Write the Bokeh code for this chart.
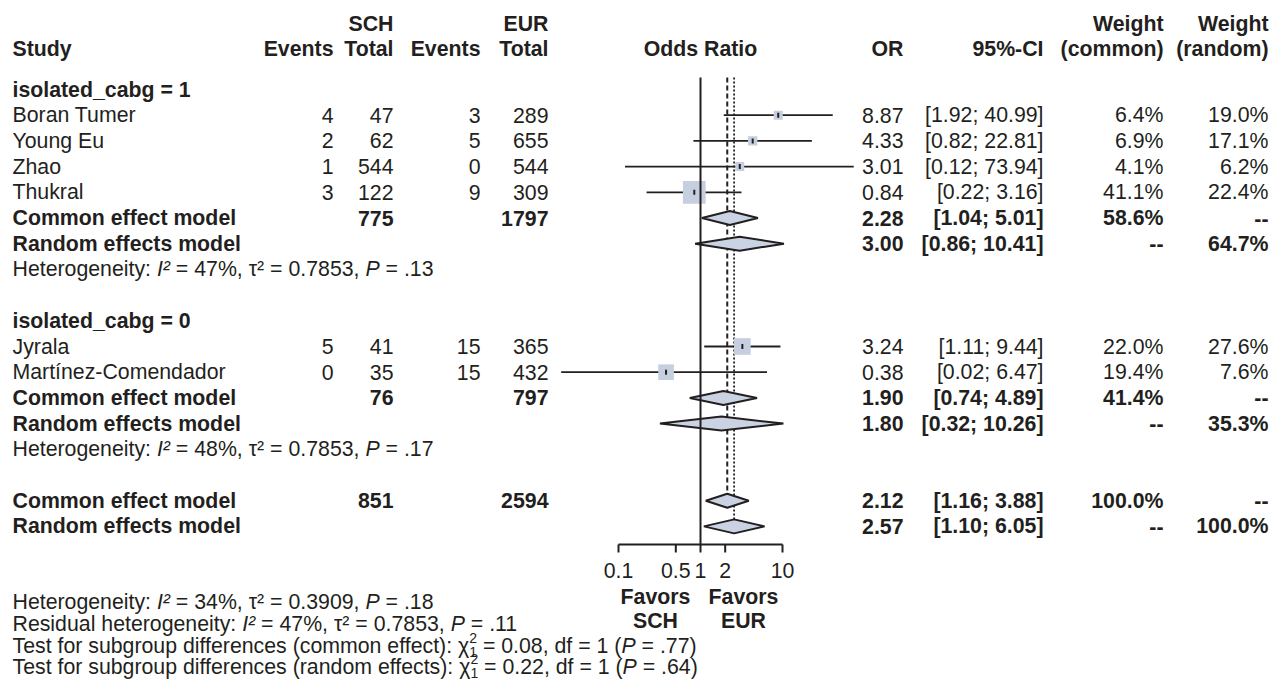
import glob
import math
from bokeh.plotting import figure
from bokeh.models import Range1d, LogScale, ColumnDataSource
from bokeh.core.properties import value
from bokeh.embed import file_html
from bokeh.resources import INLINE

# ---------------- data ----------------
g1_label = "isolated_cabg = 1"
g1_study = ["Boran Tumer", "Young Eu", "Zhao", "Thukral"]
g1_ev_sch = [4, 2, 1, 3]
g1_n_sch = [47, 62, 544, 122]
g1_ev_eur = [3, 5, 0, 9]
g1_n_eur = [289, 655, 544, 309]
g1_or = [8.87, 4.33, 3.01, 0.84]
g1_lo = [1.92, 0.82, 0.12, 0.22]
g1_hi = [40.99, 22.81, 73.94, 3.16]
g1_wc = [6.4, 6.9, 4.1, 41.1]
g1_wr = [19.0, 17.1, 6.2, 22.4]

g0_label = "isolated_cabg = 0"
g0_study = ["Jyrala", "Martínez-Comendador"]
g0_ev_sch = [5, 0]
g0_n_sch = [41, 35]
g0_ev_eur = [15, 15]
g0_n_eur = [365, 432]
g0_or = [3.24, 0.38]
g0_lo = [1.11, 0.02]
g0_hi = [9.44, 6.47]
g0_wc = [22.0, 19.4]
g0_wr = [27.6, 7.6]

model_labels = ["Common effect model", "Random effects model"]
g1_tot = [775, 1797]
g1_sum_or = [2.28, 3.00]
g1_sum_lo = [1.04, 0.86]
g1_sum_hi = [5.01, 10.41]
g1_sum_wc = [58.6, None]
g1_sum_wr = [None, 64.7]

g0_tot = [76, 797]
g0_sum_or = [1.90, 1.80]
g0_sum_lo = [0.74, 0.32]
g0_sum_hi = [4.89, 10.26]
g0_sum_wc = [41.4, None]
g0_sum_wr = [None, 35.3]

all_tot = [851, 2594]
all_sum_or = [2.12, 2.57]
all_sum_lo = [1.16, 1.10]
all_sum_hi = [3.88, 6.05]
all_sum_wc = [100.0, None]
all_sum_wr = [None, 100.0]

g1_het = ["47%", "0.7853", ".13"]
g0_het = ["48%", "0.7853", ".17"]
all_het = ["34%", "0.3909", ".18"]
resid_het = ["47%", "0.7853", ".11"]
test_common = ["0.08", "1", ".77"]
test_random = ["0.22", "1", ".64"]

ticks = [0.1, 0.5, 1, 2, 10]
tick_labels = ["0.1", "0.5", "1", "2", "10"]
favors_left = ["Favors", "SCH"]
favors_right = ["Favors", "EUR"]

# ---------------- style / layout ----------------
FONT = "Liberation Sans"
FS = 21.3
TXT = "#231f20"
LINE = "#231f20"
SQ = "#c5cfe0"
DIA = "#c9d3e3"
W, H = 1270, 680
X0, Y0 = 0, 0
X_NULL, PX_DEC = 700, 82.0
ROW0, ROWH = 89.0, 25.7
DH = 7.0
NB = "\u00a0"


def row_y(r):
    return ROW0 + ROWH * r


# text width helper
_fonts = {}
try:
    from PIL import ImageFont
    for style, fname in [("normal", "LiberationSans-Regular.ttf"),
                         ("italic", "LiberationSans-Italic.ttf"),
                         ("bold", "LiberationSans-Bold.ttf")]:
        hits = glob.glob("/usr/share/fonts/**/" + fname, recursive=True) + \
            glob.glob("/usr/local/share/fonts/**/" + fname, recursive=True)
        if hits:
            _fonts[style] = ImageFont.truetype(hits[0], 100)
except Exception:
    _fonts = {}

_AW = {' ': 278, NB: 278, '%': 889, '(': 333, ')': 333, ',': 278, '-': 333, '.': 278, ':': 278,
       ';': 278, '=': 584, '[': 278, ']': 278, '_': 556, '²': 333, 'τ': 480, 'χ': 520,
       'A': 667, 'B': 667, 'C': 722, 'D': 722, 'E': 667, 'F': 611, 'G': 778, 'H': 722,
       'I': 278, 'J': 500, 'K': 667, 'L': 556, 'M': 833, 'N': 722, 'O': 778, 'P': 667,
       'Q': 778, 'R': 722, 'S': 667, 'T': 611, 'U': 722, 'V': 667, 'W': 944, 'X': 667,
       'Y': 667, 'Z': 611, 'a': 556, 'b': 556, 'c': 500, 'd': 556, 'e': 556, 'f': 278,
       'g': 556, 'h': 556, 'i': 222, 'j': 222, 'k': 500, 'l': 222, 'm': 833, 'n': 556,
       'o': 556, 'p': 556, 'q': 556, 'r': 333, 's': 500, 't': 278, 'u': 556, 'v': 500,
       'w': 722, 'x': 500, 'y': 500, 'z': 500}


def text_width(s, style, size):
    f = _fonts.get(style) or _fonts.get("normal")
    if f is not None:
        try:
            return f.getlength(s.replace(NB, " ")) * size / 100.0
        except Exception:
            pass
    return sum(_AW.get(c, 556) for c in s) * size / 1000.0


texts = []


def T(x, y, s, style="normal", size=FS, align="left", rng="default"):
    texts.append((x, y, s, style, size, align, rng))


def rich(x, y, segs):
    for seg in segs:
        s, style, size, dy, adv = seg
        s = s.replace(" ", NB)  # keep spaces (svg collapses leading/trailing ones)
        T(x, y + dy, s, style, size)
        if adv:
            x += text_width(s, style, size)


def het_segs(label, vals):
    return [(label, "normal", FS, 0, True), ("I²", "italic", FS, 0, True),
            (" = %s, τ² = %s, " % (vals[0], vals[1]), "normal", FS, 0, True),
            ("P", "italic", FS, 0, True), (" = %s" % vals[2], "normal", FS, 0, True)]


def test_segs(label, vals):
    return [(label, "normal", FS, 0, True),
            ("2", "normal", 14, -8, False), ("1", "normal", 14, 6, True),
            (" = %s, df = %s (" % (vals[0], vals[1]), "normal", FS, 0, True),
            ("P", "italic", FS, 0, True), (" = %s)" % vals[2], "normal", FS, 0, True)]


p = figure(width=W, height=H, x_range=Range1d(X0, X0 + W), y_range=Range1d(Y0 + H, Y0),
           output_backend="svg", toolbar_location=None, min_border=0,
           x_axis_location=None, y_axis_location=None)
p.outline_line_color = None
p.grid.visible = False
p.extra_x_ranges = {"or": Range1d(10 ** ((X0 - X_NULL) / PX_DEC), 10 ** ((X0 + W - X_NULL) / PX_DEC))}
p.extra_x_scales = {"or": LogScale()}

# columns (right edges)
C_EVS, C_NS, C_EVE, C_NE = 333, 393, 480, 548
C_OR, C_CI, C_WC, C_WR = 903, 1043, 1163, 1268
X_STUDY = 12

# header
T(C_NS, 23, "SCH", "bold", align="right")
T(C_NE, 23, "EUR", "bold", align="right")
T(C_WC, 23, "Weight", "bold", align="right")
T(C_WR, 23, "Weight", "bold", align="right")
for x, s, al in [(X_STUDY, "Study", "left"), (C_EVS, "Events", "right"), (C_NS, "Total", "right"),
                 (C_EVE, "Events", "right"), (C_NE, "Total", "right"), (C_OR, "OR", "right"),
                 (C_CI, "95%-CI", "right"), (C_WC, "(common)", "right"), (C_WR, "(random)", "right")]:
    T(x, 48, s, "bold", align=al)
T(1, 48, "Odds Ratio", "bold", align="center", rng="or")

study_x, study_y, study_lo, study_hi, study_w = [], [], [], [], []
dia_xs, dia_ys = [], []


def fmt_w(w):
    return "--" if w is None else "%.1f%%" % w


def group(r0, label, study, evs, ns, eve, ne, orv, lo, hi, wc, wr, tot, s_or, s_lo, s_hi, s_wc, s_wr, het):
    T(X_STUDY, row_y(r0), label, "bold")
    for i in range(len(study)):
        y = row_y(r0 + 1 + i)
        T(X_STUDY, y, study[i])
        T(C_EVS, y, str(evs[i]), align="right")
        T(C_NS, y, str(ns[i]), align="right")
        T(C_EVE, y, str(eve[i]), align="right")
        T(C_NE, y, str(ne[i]), align="right")
        T(C_OR, y, "%.2f" % orv[i], align="right")
        T(C_CI, y, "[%.2f; %.2f]" % (lo[i], hi[i]), align="right")
        T(C_WC, y, fmt_w(wc[i]), align="right")
        T(C_WR, y, fmt_w(wr[i]), align="right")
        study_x.append(orv[i]); study_y.append(y); study_lo.append(lo[i]); study_hi.append(hi[i])
        study_w.append(wc[i])
    rs = r0 + 1 + len(study)
    summary(rs, tot, s_or, s_lo, s_hi, s_wc, s_wr)
    rich(X_STUDY, row_y(rs + 2), het_segs("Heterogeneity: ", het))


def summary(rs, tot, s_or, s_lo, s_hi, s_wc, s_wr):
    for k in range(2):
        y = row_y(rs + k)
        T(X_STUDY, y, model_labels[k], "bold")
        if k == 0:
            T(C_NS, y, str(tot[0]), "bold", align="right")
            T(C_NE, y, str(tot[1]), "bold", align="right")
        T(C_OR, y, "%.2f" % s_or[k], "bold", align="right")
        T(C_CI, y, "[%.2f; %.2f]" % (s_lo[k], s_hi[k]), "bold", align="right")
        T(C_WC, y, fmt_w(s_wc[k]), "bold", align="right")
        T(C_WR, y, fmt_w(s_wr[k]), "bold", align="right")
        dia_xs.append([s_lo[k], s_or[k], s_hi[k], s_or[k]])
        dia_ys.append([y, y - DH, y, y + DH])


group(0, g1_label, g1_study, g1_ev_sch, g1_n_sch, g1_ev_eur, g1_n_eur, g1_or, g1_lo, g1_hi,
      g1_wc, g1_wr, g1_tot, g1_sum_or, g1_sum_lo, g1_sum_hi, g1_sum_wc, g1_sum_wr, g1_het)
group(9, g0_label, g0_study, g0_ev_sch, g0_n_sch, g0_ev_eur, g0_n_eur, g0_or, g0_lo, g0_hi,
      g0_wc, g0_wr, g0_tot, g0_sum_or, g0_sum_lo, g0_sum_hi, g0_sum_wc, g0_sum_wr, g0_het)
summary(16, all_tot, all_sum_or, all_sum_lo, all_sum_hi, all_sum_wc, all_sum_wr)

# bottom texts (slightly compressed to fit the canvas)
rich(X_STUDY, 601, het_segs("Heterogeneity: ", all_het))
rich(X_STUDY, 623, het_segs("Residual heterogeneity: ", resid_het))
rich(X_STUDY, 645, test_segs("Test for subgroup differences (common effect): χ", test_common))
rich(X_STUDY, 666, test_segs("Test for subgroup differences (random effects): χ", test_random))

T(655, 596, favors_left[0], "bold", align="center")
T(655, 620, favors_left[1], "bold", align="center")
T(743, 596, favors_right[0], "bold", align="center")
T(743, 620, favors_right[1], "bold", align="center")

# ---------------- forest graphics ----------------
TOP = 77
AXIS_Y = 544
y_c = row_y(16)
y_r = row_y(17)
p.segment(x0=[all_sum_or[0]], x1=[all_sum_or[0]], y0=[TOP], y1=[y_c - DH], x_range_name="or",
          line_color=LINE, line_width=2, line_dash="5 3")
p.segment(x0=[all_sum_or[1]], x1=[all_sum_or[1]], y0=[TOP], y1=[y_r - DH], x_range_name="or",
          line_color=LINE, line_width=1.8, line_dash="2 2")

p.segment(x0=study_lo, x1=study_hi, y0=study_y, y1=study_y, x_range_name="or",
          line_color=LINE, line_width=1.8)
sizes = [max(9.0, 3.55 * math.sqrt(w)) for w in study_w]
p.scatter(x=study_x, y=study_y, size=sizes, marker="square", fill_color=SQ, line_color=None,
          x_range_name="or")
p.segment(x0=study_x, x1=study_x, y0=[y - 2.5 for y in study_y], y1=[y + 2.5 for y in study_y],
          x_range_name="or", line_color=LINE, line_width=2)
p.patches(xs=dia_xs, ys=dia_ys, x_range_name="or", fill_color=DIA, line_color=LINE, line_width=2)

p.segment(x0=[1], x1=[1], y0=[TOP], y1=[AXIS_Y], x_range_name="or", line_color=LINE, line_width=2)

# axis
p.segment(x0=[ticks[0]], x1=[ticks[-1]], y0=[AXIS_Y], y1=[AXIS_Y], x_range_name="or",
          line_color=LINE, line_width=2)
p.segment(x0=ticks, x1=ticks, y0=[AXIS_Y] * len(ticks), y1=[AXIS_Y + 8] * len(ticks),
          x_range_name="or", line_color=LINE, line_width=2)
p.text(x=ticks, y=[570] * len(ticks), text=tick_labels, x_range_name="or",
       text_font=value(FONT), text_font_size=value("%gpx" % FS), text_align="center",
       text_baseline="middle", text_color=TXT)

# draw texts grouped
groups = {}
for (x, y, s, style, size, align, rng) in texts:
    groups.setdefault((style, size, align, rng), []).append((x, y, s))
for (style, size, align, rng), items in groups.items():
    src = ColumnDataSource(dict(x=[i[0] for i in items], y=[i[1] for i in items],
                                t=[i[2] for i in items]))
    p.text(x="x", y="y", text="t", source=src, x_range_name=rng,
           text_font=value(FONT), text_font_size=value("%gpx" % size), text_font_style=style,
           text_align=align, text_baseline="middle", text_color=TXT)

open("out.html", "w").write(file_html(p, INLINE))
